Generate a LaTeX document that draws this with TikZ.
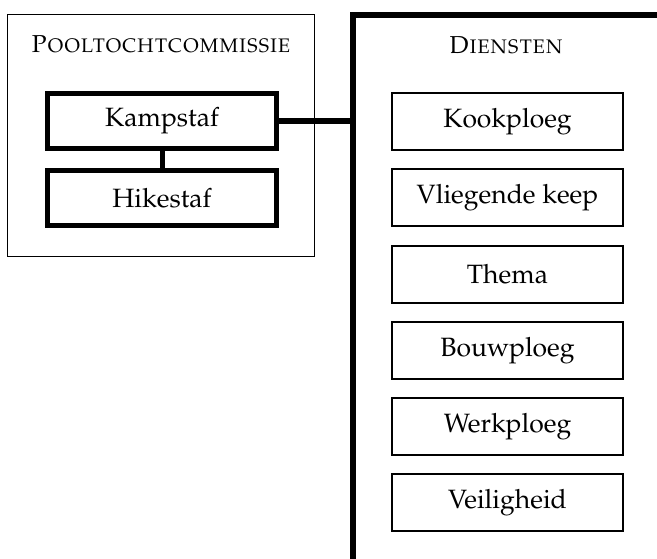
\documentclass[tikz,border=0pt]{standalone}
\usepackage[T1]{fontenc}
\usepackage{mathpazo}
\begin{document}
\begin{tikzpicture}[x=1pt,y=-1pt,
  every node/.style={font=\fontsize{26.5}{30}\selectfont, inner sep=0pt},
  staf/.style={draw, line width=5pt, minimum width=229pt, minimum height=55pt},
  dienst/.style={draw, line width=2pt, minimum width=231pt, minimum height=57pt},
  frame/.style={draw, line width=1pt, minimum width=306.5pt, minimum height=242.5pt},
  thick link/.style={line width=5.5pt},
  title/.style={font=\fontsize{24.5}{28}\selectfont\scshape}]
\useasboundingbox (0,0) rectangle (657,559);
% left frame
\node[frame] (pool) at (160.75,135.75) {};
\node[title] (pooltitle) at (161,44) {Pooltochtcommissie};
\node[staf] (kamp) at (162,121) {Kampstaf};
\node[staf] (hike) at (162,198) {Hikestaf};
\draw[line width=5pt] (kamp.south) -- (hike.north);
% bracket line
\coordinate (vb) at (353,559);
\coordinate (vt) at (353,15);
\coordinate (re) at (657,15);
\draw[thick link, line join=miter] (vb) -- (vt) -- (re);
\draw[thick link] (kamp.east) -- (kamp.east -| vt);
% diensten
\node[title] (dtitle) at (506,45) {Diensten};
\node[dienst] (d1) at (507.5,121.5) {Kookploeg};
\node[dienst] (d2) at (507.5,197.8) {Vliegende keep};
\node[dienst] (d3) at (507.5,274.1) {Thema};
\node[dienst] (d4) at (507.5,350.4) {Bouwploeg};
\node[dienst] (d5) at (507.5,426.7) {Werkploeg};
\node[dienst] (d6) at (507.5,502.5) {Veiligheid};
\end{tikzpicture}
\end{document}
